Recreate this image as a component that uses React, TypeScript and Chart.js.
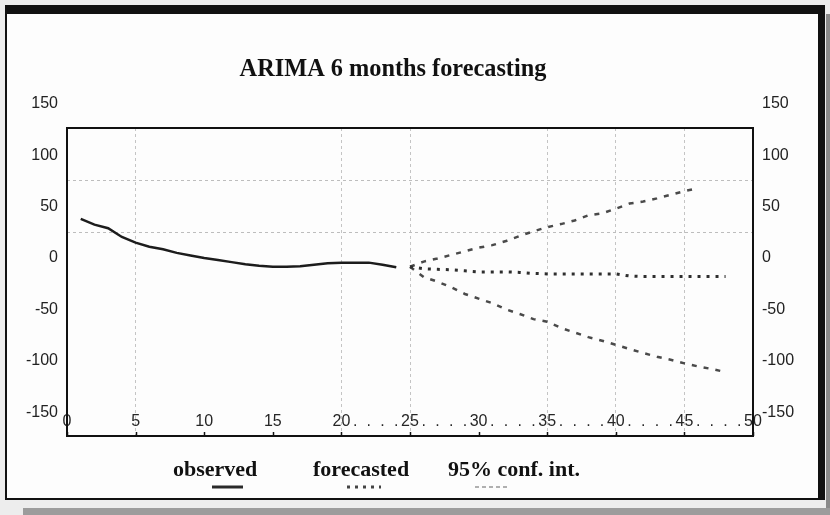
import React, { useEffect, useRef } from 'react';
import { Chart, registerables } from 'chart.js';

Chart.register(...registerables);

// ---------- text ----------
const TITLE = 'ARIMA 6 months forecasting';
const LEGEND_LABELS = ['observed', 'forecasted', '95% conf. int.'];

// ---------- axes ----------
const Y_MIN = -173.2;
const Y_MAX = 126.5;
const Y_TICKS = [-150, -125, -100, -75, -50, -25, 0, 25, 50, 75, 100, 125, 150];
const Y_LABELED = [-150, -100, -50, 0, 50, 100, 150];
const Y_GRID = [25, 75];

const X_MIN = 0;
const X_MAX = 50;
const X_LABELS = [0, 5, 10, 15, 20, 25, 30, 35, 40, 45, 50];
const X_DOTS = [21, 22, 23, 24, 26, 27, 28, 29, 31, 32, 33, 34, 36, 37, 38, 39, 41, 42, 43, 44, 46, 47, 48, 49];
const X_GRID = [5, 20, 25, 35, 40, 45];

// ---------- series ----------
const OBS_START = 1;
const OBSERVED = [38, 32.5, 29, 20.5, 15, 11, 8.5, 5, 2.5, 0, -2, -4, -6, -7.5, -8.5, -8.5, -8, -6.5, -5, -4.5, -4.5, -4.5, -6.5, -9];

const FC_START = 25;
const FORECAST = [-8.5, -10.5, -11, -11.5, -12.5, -13.5, -13.5, -13.5, -14, -15, -15.5, -15.5, -15.5, -15.5, -15.5, -15.5, -17.5, -18, -18, -18, -18, -18, -18, -18];
const UPPER = [-8.5, -3.5, -0.5, 3, 6.5, 10, 12.5, 16.5, 21.5, 26, 30, 33, 36.5, 41.5, 43.5, 48, 53, 55, 58, 61.5, 65, 68];
const LOWER = [-8.5, -18.5, -23, -28.5, -35, -39.5, -44, -50, -54.5, -59.5, -62, -68, -72.5, -77, -80.5, -84.5, -88.5, -92.5, -96, -99, -102.5, -105.5, -108, -111];

const SANS = '"Liberation Sans", Arial, sans-serif';
const SERIF = '"Liberation Serif", "Times New Roman", serif';

const toPoints = (start: number, values: number[]) => values.map((v, i) => ({ x: start + i, y: v }));

const decor = {
  id: 'decor',
  beforeDraw(chart: any) {
    const ctx = chart.ctx as CanvasRenderingContext2D;
    const W = chart.width;
    const H = chart.height;
    ctx.save();
    // page background + shadow
    ctx.fillStyle = '#ededed';
    ctx.fillRect(0, 0, W, H);
    ctx.fillStyle = '#8a8a8a';
    ctx.fillRect(826, 14, W - 826, H - 14);
    ctx.fillStyle = '#9c9c9c';
    ctx.fillRect(23, 508, W - 23, H - 508);
    // frame interior
    ctx.fillStyle = '#fdfdfd';
    ctx.fillRect(6, 6, 818, 493);
    // frame
    ctx.fillStyle = '#111111';
    ctx.fillRect(5, 5, 820, 9);
    ctx.fillRect(818, 5, 7, 495);
    ctx.fillRect(5, 5, 2, 495);
    ctx.fillRect(5, 498, 820, 2);

    // title
    ctx.fillStyle = '#111111';
    ctx.font = `bold 26px ${SERIF}`;
    ctx.textAlign = 'center';
    ctx.textBaseline = 'alphabetic';
    ctx.save();
    ctx.translate(393, 76);
    ctx.scale(0.935, 1);
    ctx.fillText(TITLE, 0, 0);
    ctx.restore();

    // legend
    ctx.font = `bold 22px ${SERIF}`;
    ctx.textAlign = 'left';
    const lx = [173, 313, 448];
    LEGEND_LABELS.forEach((t, i) => ctx.fillText(t, lx[i], 476));

    ctx.lineCap = 'butt';
    // observed sample
    ctx.strokeStyle = '#2a2a2a';
    ctx.lineWidth = 3;
    ctx.setLineDash([]);
    ctx.beginPath();
    ctx.moveTo(212, 487);
    ctx.lineTo(243, 487);
    ctx.stroke();
    // forecast sample
    ctx.strokeStyle = '#444444';
    ctx.setLineDash([3, 5]);
    ctx.beginPath();
    ctx.moveTo(347, 487);
    ctx.lineTo(381, 487);
    ctx.stroke();
    // conf sample
    ctx.strokeStyle = '#b0b0b0';
    ctx.lineWidth = 2;
    ctx.setLineDash([4, 3]);
    ctx.beginPath();
    ctx.moveTo(475, 487);
    ctx.lineTo(509, 487);
    ctx.stroke();
    ctx.restore();
  },
  afterDraw(chart: any) {
    const ctx = chart.ctx as CanvasRenderingContext2D;
    const a = chart.chartArea;
    const xs = chart.scales.x;
    ctx.save();
    ctx.strokeStyle = '#111111';
    ctx.lineWidth = 1.5;
    ctx.setLineDash([]);
    X_LABELS.forEach((v) => {
      const px = Math.round(xs.getPixelForValue(v)) + 0.5;
      ctx.beginPath();
      ctx.moveTo(px, a.bottom - 4);
      ctx.lineTo(px, a.bottom);
      ctx.stroke();
    });
    ctx.lineWidth = 2;
    ctx.strokeRect(a.left, a.top, a.right - a.left, a.bottom - a.top);
    ctx.restore();
  },
};

export default function App() {
  const ref = useRef<HTMLCanvasElement>(null);

  useEffect(() => {
    const canvas = ref.current;
    if (!canvas) return;
    const chart = new Chart(canvas, {
      type: 'line',
      data: {
        datasets: [
          {
            label: LEGEND_LABELS[0],
            data: toPoints(OBS_START, OBSERVED),
            borderColor: '#1c1c1c',
            borderWidth: 2.5,
            pointRadius: 0,
            tension: 0,
          },
          {
            label: LEGEND_LABELS[1],
            data: toPoints(FC_START, FORECAST),
            borderColor: '#2e2e2e',
            borderWidth: 3,
            borderDash: [3, 6],
            pointRadius: 0,
            tension: 0,
          },
          {
            label: LEGEND_LABELS[2],
            data: toPoints(FC_START, UPPER),
            borderColor: '#4a4a4a',
            borderWidth: 2.5,
            borderDash: [5, 7],
            pointRadius: 0,
            tension: 0,
          },
          {
            label: LEGEND_LABELS[2] + ' (lower)',
            data: toPoints(FC_START, LOWER),
            borderColor: '#4a4a4a',
            borderWidth: 2.5,
            borderDash: [5, 7],
            pointRadius: 0,
            tension: 0,
          },
        ],
      },
      options: {
        animation: false,
        responsive: false,
        events: [],
        parsing: false as any,
        layout: { padding: { left: 0, right: 0, top: 128, bottom: 79 } },
        plugins: {
          legend: { display: false },
          tooltip: { enabled: false },
          title: { display: false },
        },
        scales: {
          x: {
            type: 'linear',
            position: 'bottom',
            min: X_MIN,
            max: X_MAX,
            bounds: 'data',
            afterBuildTicks: (s: any) => {
              s.ticks = [...X_LABELS, ...X_DOTS].sort((p, q) => p - q).map((v) => ({ value: v }));
            },
            afterFit: (s: any) => {
              s.height = 0;
            },
            grid: {
              drawTicks: false,
              lineWidth: 1,
              color: (c: any) => (c.tick && X_GRID.includes(c.tick.value) ? '#c4c4c4' : 'rgba(0,0,0,0)'),
            },
            border: { display: false, dash: [3, 3] },
            ticks: {
              mirror: true,
              padding: 5,
              autoSkip: false,
              maxRotation: 0,
              minRotation: 0,
              color: '#262626',
              font: { family: SANS, size: 16 },
              callback: (v: any) => (X_LABELS.includes(v) ? String(v) : X_DOTS.includes(v) ? '.' : ''),
            },
          },
          y: {
            type: 'linear',
            position: 'left',
            min: Y_MIN,
            max: Y_MAX,
            bounds: 'data',
            afterBuildTicks: (s: any) => {
              s.ticks = Y_TICKS.map((v) => ({ value: v }));
            },
            afterFit: (s: any) => {
              s.width = 67;
            },
            grid: {
              drawTicks: false,
              lineWidth: 1,
              color: (c: any) => (c.tick && Y_GRID.includes(c.tick.value) ? '#bdbdbd' : 'rgba(0,0,0,0)'),
            },
            border: { display: false, dash: [3, 3] },
            ticks: {
              padding: 9,
              autoSkip: false,
              color: '#222222',
              font: { family: SANS, size: 16 },
              callback: (v: any) => (Y_LABELED.includes(v) ? String(v) : ''),
            },
          },
          y2: {
            type: 'linear',
            position: 'right',
            min: Y_MIN,
            max: Y_MAX,
            bounds: 'data',
            afterBuildTicks: (s: any) => {
              s.ticks = Y_TICKS.map((v) => ({ value: v }));
            },
            afterFit: (s: any) => {
              s.width = 77;
            },
            grid: { display: false, drawTicks: false },
            border: { display: false },
            ticks: {
              padding: 9,
              autoSkip: false,
              color: '#222222',
              font: { family: SANS, size: 16 },
              callback: (v: any) => (Y_LABELED.includes(v) ? String(v) : ''),
            },
          },
        },
      } as any,
      plugins: [decor],
    });
    return () => chart.destroy();
  }, []);

  return (
    <div style={{ position: 'fixed', left: 0, top: 0, width: 830, height: 515 }}>
      <canvas ref={ref} width={830} height={515} style={{ display: 'block', width: 830, height: 515 }} />
    </div>
  );
}
